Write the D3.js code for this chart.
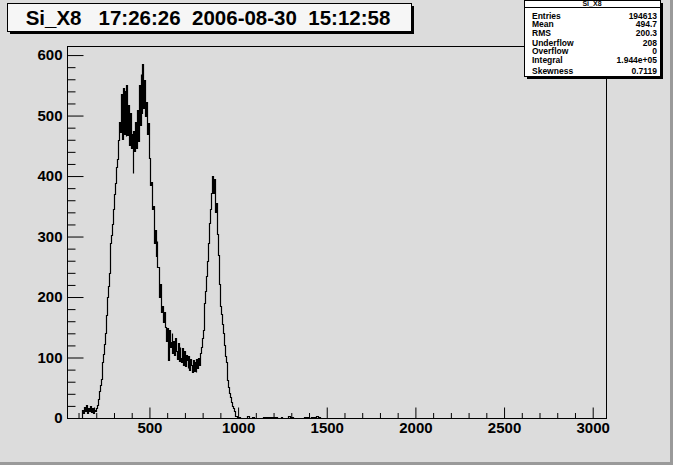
<!DOCTYPE html>
<html><head><meta charset="utf-8">
<script src="https://cdn.jsdelivr.net/npm/d3@7"></script>
<style>
html,body{margin:0;padding:0;background:#dcdcdc;}
svg{display:block;}
text{font-family:"Liberation Sans",Arial,Helvetica,sans-serif;}
</style></head>
<body>
<script>
// ---- data ----
const titleText = "Si_X8   17:26:26  2006-08-30  15:12:58";
const statsTitle = "Si_X8";
const statsLabels = ["Entries","Mean","RMS","Underflow","Overflow","Integral","Skewness"];
const statsValues = ["194613","494.7","200.3","208","0","1.944e+05","0.7119"];
const xTicks = [500,1000,1500,2000,2500,3000];
const yTicks = [0,100,200,300,400,500,600];
const xDomain = [35, 3075];
const yDomain = [0, 615];
// main histogram: bins of width 5 starting at 120
const mainStart = 120, mainWidth = 5;
const mainCounts = [
 14, 9, 18, 11, 22, 13, 8, 17, 12, 20,          // 120-165
 10, 16, 9, 19, 13, 11, 16, 22, 32, 45,         // 170-215
 55, 64, 75, 92, 105, 122, 140, 170, 200, 218,  // 220-265
 240, 265, 290, 302, 320, 345, 370, 388, 415, 428, // 270-315
 445, 460, 490, 472, 535, 462, 545, 470, 540, 466, // 320-365
 550, 468, 518, 452, 505, 446, 470, 405, 474, 442, // 370-415
 490, 446, 510, 458, 550, 484, 568, 505, 585, 512, // 420-465
 558, 500, 522, 470, 487, 442, 430, 385, 390, 345, // 470-515
 350, 290, 310, 268, 292, 250, 250, 200, 222, 175, // 520-565
 185, 158, 176, 150, 150, 128, 148, 96, 146, 118,  // 570-615
 125, 140, 108, 128, 104, 132, 110, 98, 124, 94,   // 620-665
 118, 100, 92, 115, 88, 110, 86, 104, 96, 82,      // 670-715
 102, 80, 98, 88, 76, 96, 78, 92, 76, 98,          // 720-765
 82, 100, 88, 108, 118, 132, 145, 170, 190, 210,   // 770-815
 235, 260, 290, 322, 345, 372, 385, 400, 372, 395, // 820-865
 340, 355, 305, 270, 245, 222, 185, 172, 155, 140, // 870-915
 120, 103, 92, 78, 62, 52, 42, 35, 27, 20,         // 920-965
 16, 11, 7, 4, 3, 1                                // 970-995
];
// tail: bins of width 10 starting at 1000
const tailStart = 1000, tailWidth = 10;
const tailCounts = [
 1,0,0,0,0,3,0,0,1,0,
 0,0,0,0,1,2,1,2,1,1,
 2,1,0,0,1,0,0,0,3,2,
 1,0,0,0,0,0,0,2,1,1,
 0,2,0,1,3,2,0,0,0,0
];

// ---- layout ----
const W = 673, H = 465;
const F = {l:67, r:606, t:46, b:418};
const svg = d3.select("body").append("svg").attr("width",W).attr("height",H);

// canvas background + border shading
svg.append("rect").attr("x",0).attr("y",0).attr("width",W).attr("height",H).attr("fill","#dcdcdc");
svg.append("rect").attr("x",0).attr("y",H-3).attr("width",W).attr("height",3).attr("fill","#9a9a9a");
svg.append("rect").attr("x",W-3).attr("y",0).attr("width",3).attr("height",H).attr("fill","#9a9a9a");

const x = d3.scaleLinear().domain(xDomain).range([F.l, F.r]);
const y = d3.scaleLinear().domain(yDomain).range([F.b, F.t]);

// frame
svg.append("rect").attr("x",F.l+0.5).attr("y",F.t+0.5).attr("width",F.r-F.l).attr("height",F.b-F.t)
  .attr("fill","#dcdcdc").attr("stroke","#000").attr("stroke-width",1);

// histogram path
const pts = [];
pts.push([mainStart, 0]);
mainCounts.forEach((c,i)=>{ const lo = mainStart+i*mainWidth; pts.push([lo,c]); pts.push([lo+mainWidth,c]); });
tailCounts.forEach((c,i)=>{ const lo = tailStart+i*tailWidth; pts.push([lo,c]); pts.push([lo+tailWidth,c]); });
pts.push([tailStart+tailCounts.length*tailWidth, 0]);
svg.append("defs").append("clipPath").attr("id","fc").append("rect")
  .attr("x",F.l).attr("y",F.t).attr("width",F.r-F.l).attr("height",F.b-F.t);
svg.append("path").attr("clip-path","url(#fc)")
  .attr("d", d3.line().x(d=>Math.round(x(d[0]))+0.5).y(d=>Math.round(y(d[1]))+0.5)(pts))
  .attr("fill","none").attr("stroke","#000").attr("stroke-width",1.2);

// axes
const yMinor = d3.range(0, 615, 20).filter(v=>v%100!==0);
const xMinor = d3.range(100, 3075, 100).filter(v=>v%500!==0);
const axisFont = g => g.selectAll("text").attr("font-size",15).attr("font-weight","bold").attr("fill","#000")
  .attr("font-family","'Liberation Sans',Arial,sans-serif");

const gy = svg.append("g").attr("transform",`translate(${F.l+0.5},0)`);
gy.call(d3.axisLeft(y).tickValues(yTicks).tickSize(-16).tickPadding(5).tickFormat(d3.format("d")));
gy.append("g").call(d3.axisLeft(y).tickValues(yMinor).tickSize(-8).tickFormat(""));
gy.selectAll(".domain").remove();
gy.selectAll("line").attr("stroke","#000");
axisFont(gy);

const gx = svg.append("g").attr("transform",`translate(0,${F.b+0.5})`);
gx.call(d3.axisBottom(x).tickValues(xTicks).tickSize(-11).tickPadding(4).tickFormat(d3.format("d")));
gx.append("g").call(d3.axisBottom(x).tickValues(xMinor).tickSize(-5.5).tickFormat(""));
gx.selectAll(".domain").remove();
gx.selectAll("line").attr("stroke","#000");
axisFont(gx);

// title box
svg.append("rect").attr("x",10).attr("y",6).attr("width",404).attr("height",28).attr("fill","#000");
svg.append("rect").attr("x",7.5).attr("y",3.5).attr("width",404).attr("height",28)
  .attr("fill","#f6f6f6").attr("stroke","#000").attr("stroke-width",1);
svg.append("text").attr("x",208).attr("y",25).attr("text-anchor","middle")
  .attr("font-size",20.5).attr("font-weight","bold").attr("xml:space","preserve").style("white-space","pre")
  .text(titleText);

// stats box
const sb = {x:524, y:0, w:136, h:76};
svg.append("rect").attr("x",sb.x+3).attr("y",sb.y+3).attr("width",sb.w).attr("height",sb.h).attr("fill","#000");
svg.append("rect").attr("x",sb.x+0.5).attr("y",sb.y+0.5).attr("width",sb.w).attr("height",sb.h)
  .attr("fill","#fff").attr("stroke","#000");
svg.append("line").attr("x1",sb.x).attr("x2",sb.x+sb.w).attr("y1",7.5).attr("y2",7.5).attr("stroke","#000");
svg.append("text").attr("x",sb.x+sb.w/2).attr("y",6).attr("text-anchor","middle")
  .attr("font-size",7).attr("font-weight","bold").text(statsTitle);
const rowY = [18.5, 27, 35.5, 45.5, 54, 63, 73.5];
statsLabels.forEach((l,i)=>{
  svg.append("text").attr("x",sb.x+8).attr("y",rowY[i]).attr("font-size",8.5).attr("font-weight","bold").text(l);
  svg.append("text").attr("x",sb.x+sb.w-3).attr("y",rowY[i]).attr("text-anchor","end")
    .attr("font-size",8.5).attr("font-weight","bold").text(statsValues[i]);
});
</script>
</body></html>
